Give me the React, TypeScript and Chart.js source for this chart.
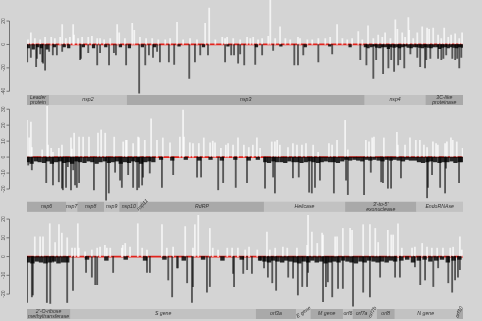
import React, { useEffect, useRef } from "react";
import { Chart, registerables } from "chart.js";

Chart.register(...registerables);

// ---------------- Panel 1 (ORF1a: nsp1 - nsp5) ----------------
const p1Range = [266, 10972];
const p1Ticks = [20, 0, -20, -40];
const p1PosX = [290, 360, 460, 590, 710, 860, 950, 1080, 1130, 1220,
  1320, 1400, 1420, 1520, 1620, 1770, 1860, 1990, 2060, 2160,
  2310, 2480, 2530, 2670, 2850, 2900, 3040, 3190, 3340, 3490,
  3660, 3780, 3950, 4100, 4270, 4440, 4640, 4740, 4890, 5060,
  5130, 5180, 5330, 5500, 5670, 5750, 5820, 5940, 6040, 6190,
  6240, 6360, 6480, 6610, 6730, 6920, 6970, 7150, 7270, 7420,
  7590, 7710, 7880, 8010, 8130, 8250, 8400, 8500, 8640, 8770,
  8890, 8990, 9060, 9190, 9310, 9360, 9480, 9550, 9630, 9650,
  9750, 9850, 9970, 10090, 10140, 10240, 10360, 10440, 10510, 10610,
  10680, 10780, 10880, 10950];
const p1PosY = [4, 10, 5, 4, 6, 6, 5, 6, 17, 5,
  6, 17, 8, 5, 6, 6, 7, 5, 5, 4,
  5, 17, 10, 5, 18, 12, 6, 5, 5, 4,
  4, 5, 19, 4, 5, 4, 18, 31, 4, 6,
  5, 6, 5, 4, 6, 5, 6, 4, 5, 7,
  40, 5, 15, 5, 4, 6, 5, 4, 4, 5,
  5, 6, 17, 5, 4, 5, 11, 4, 16, 5,
  8, 6, 10, 5, 21, 13, 10, 6, 23, 12,
  5, 10, 15, 14, 13, 14, 8, 5, 14, 6,
  8, 9, 5, 10];
const p1NegX = [270, 360, 490, 510, 590, 640, 660, 710, 810, 900,
  1000, 1130, 1570, 1590, 1770, 1990, 2060, 2280, 2400, 2450,
  2700, 3020, 3170, 3260, 3360, 3460, 3530, 3750, 3880, 4250,
  4390, 4520, 4710, 5130, 5280, 5350, 5450, 5500, 5600, 5870,
  6040, 6310, 6830, 6920, 7050, 7420, 7760, 8450, 8600, 8770,
  8840, 9010, 9140, 9210, 9280, 9380, 9430, 9530, 9680, 9850,
  9920, 10040, 10070, 10170, 10360, 10440, 10490, 10560, 10710, 10780,
  10830, 10880, 10930];
const p1NegY = [-15, -11, -19, -12, -8, -15, -16, -22, -6, -9,
  -9, -6, -13, -12, -7, -17.5, -7, -17.5, -7, -9,
  -17.5, -42, -17.5, -9, -11, -6, -15, -15, -17, -29,
  -15, -9, -9, -15, -9, -9, -16, -8, -17.5, -17,
  -9, -5, -17.5, -17.5, -9, -15, -8, -13, -17.5, -29,
  -13, -25, -20, -13, -23, -17.5, -13, -20, -8, -11,
  -19, -20, -13, -12, -12, -13, -12, -9, -12, -13,
  -12, -20, -11];
const p1BandX = [300, 420, 530, 620, 760, 940, 1180, 1290, 1650, 1900,
  2200, 2560, 2780, 3100, 3400, 4000, 4600, 5200, 5900, 6500,
  7100, 7700, 8200, 8575, 8640, 8715, 8790, 8855, 8930, 8995,
  9070, 9140, 9205, 9280, 9350, 9415, 9490, 9560, 9625, 9700,
  9770, 9835, 9910, 9980, 10045, 10120, 10190, 10255, 10330, 10400,
  10465, 10540, 10610, 10675, 10750, 10820, 10885, 10955];
const p1BandY = [-3, -4, -2, -3, -4, -2, -2, -3, -2, -3,
  -2, -2, -3, -2, -2, -1.5, -2, -1.5, -2, -1.5,
  -2, -1.5, -2, -2, -3, -2, -1.5, -2.5, -3, -2,
  -2, -3.5, -2, -2.5, -2, -3, -2, -1.5, -2.5, -3,
  -2, -2, -2.5, -3, -2, -2.5, -3, -2, -2, -3.5,
  -2.5, -2, -3, -2, -2.5, -3, -2, -2.5];
const p1Genes = ["Leader\nprotein", "nsp2", "nsp3", "nsp4", "3C-like\nproteinase"];
const p1GeneStart = [266, 806, 2720, 8555, 10055];
const p1GeneEnd = [805, 2719, 8554, 10054, 10972];

// ---------------- Panel 2 (nsp6 - nsp15) ----------------
const p2Range = [10973, 20658];
const p2Ticks = [30, 20, 10, 0, -10, -20];
const p2PosX = [10970, 11020, 11060, 11080, 11310, 11420, 11440, 11510, 11550, 11680,
  11750, 11950, 11970, 12020, 12130, 12220, 12350, 12550, 12620, 12710,
  12910, 13110, 13170, 13190, 13330, 13440, 13460, 13590, 13730, 13860,
  13990, 14150, 14370, 14440, 14460, 14590, 14660, 14790, 14900, 15040,
  15100, 15150, 15280, 15390, 15440, 15550, 15660, 15790, 15900, 15990,
  16080, 16150, 16410, 16480, 16530, 16590, 16770, 16880, 16970, 17080,
  17170, 17330, 17440, 17680, 17750, 17860, 18040, 18100, 18500, 18570,
  18640, 18680, 18900, 19190, 19210, 19370, 19480, 19610, 19700, 19790,
  19860, 19990, 20060, 20100, 20260, 20300, 20390, 20430, 20520, 20650];
const p2PosY = [23, 12, 22, 6, 4.5, 32, 7.5, 5.5, 3, 5.5,
  7.5, 12, 5, 15, 12.5, 12.5, 12.5, 15, 17, 15,
  12.5, 9.5, 10.5, 10.5, 8.5, 12.5, 12, 10.5, 24, 10.5,
  12, 9, 12.5, 29.5, 12.5, 9, 8.5, 8.5, 12, 9,
  10, 9, 5.5, 7.5, 8.5, 7.5, 12, 7.5, 6, 7.5,
  12, 5.5, 9.5, 9.5, 10.5, 7.5, 6, 8.5, 7.5, 7.5,
  8.5, 7.5, 3, 8.5, 7.5, 10.5, 23, 4.5, 10.5, 9.5,
  12, 12.5, 12, 15.5, 7.5, 7.5, 12, 10.5, 10.5, 7.5,
  6, 9.5, 8.5, 7.5, 8.5, 9.5, 12, 10.5, 9.5, 5.5];
const p2NegX = [11000, 11080, 11400, 11550, 11680, 11750, 11770, 11840, 11880, 11950,
  12000, 12040, 12080, 12130, 12460, 12730, 12790, 12930, 13040, 13080,
  13220, 13330, 13420, 13460, 13530, 13550, 13700, 13970, 14220, 14750,
  14840, 15220, 15330, 15610, 15860, 16260, 16440, 16480, 16880, 17010,
  17240, 17300, 17370, 17480, 17790, 18060, 18100, 18460, 18610, 18840,
  18880, 18990, 19060, 19280, 19860, 19880, 19970, 20150, 20260, 20280,
  20570];
const p2NegY = [-5, -8, -16, -17.5, -15.5, -19.5, -20.5, -19, -6, -20.5,
  -8, -17.5, -19, -16, -20.5, -27, -22.5, -9.5, -14.5, -19,
  -11, -19, -20.5, -19, -17.5, -12.5, -10, -19, -11, -12.5,
  -12.5, -20.5, -16, -19, -16, -19.5, -12.5, -22.5, -13, -12.5,
  -22, -22.5, -19, -14.5, -22.5, -14.5, -23.5, -23.5, -9.5, -15.5,
  -16, -19.5, -19.5, -13, -25.5, -19, -11, -19, -22.5, -7,
  -16];
const p2BandX = [10990, 11075, 11170, 11255, 11350, 11440, 11525, 11620, 11705, 11800,
  11890, 11975, 12070, 12155, 12250, 12340, 12425, 12520, 12605, 12700,
  12790, 12875, 12970, 13055, 13150, 13240, 13325, 13420, 13505, 13600,
  13690, 13780, 13950, 14200, 14500, 14800, 15050, 15300, 15600, 15900,
  16100, 16265, 16350, 16445, 16530, 16625, 16710, 16800, 16895, 16980,
  17070, 17165, 17250, 17340, 17435, 17520, 17610, 17705, 17790, 17880,
  17975, 18060, 18150, 18245, 18330, 18420, 18515, 18600, 18690, 18785,
  18870, 18960, 19055, 19140, 19230, 19325, 19410, 19500, 19595, 19680,
  19770, 19865, 19950, 20040, 20135, 20220, 20310, 20405, 20490, 20580,
  20645];
const p2BandY = [-3, -4, -2.5, -3, -3.5, -2.5, -4, -3, -2.5, -3.5,
  -3, -4, -2.5, -3, -3.5, -2.5, -3, -4, -3, -2.5,
  -3.5, -3, -2.5, -4, -3, -3.5, -2.5, -3, -4, -3,
  -2.5, -3, -1.5, -2, -1.5, -2, -1.5, -2, -1.5, -2,
  -1.5, -3, -3.5, -2.5, -3, -3, -3.5, -2.5, -3, -3,
  -3.5, -3, -2.5, -3, -3.5, -3, -2.5, -3, -3, -3.5,
  -2.5, -1.5, -2, -1.5, -2, -2.5, -1.5, -2, -1.5, -2,
  -2.5, -1.5, -2, -1.5, -2, -2.5, -1.5, -2, -2, -3,
  -3.5, -3, -2.5, -3, -3.5, -3, -3, -2.5, -3.5, -3,
  -3];
const p2Genes = ["nsp6", "nsp7", "nsp8", "nsp9", "nsp10", "nsp11", "RdRP", "Helicase", "3'-to-5'\nexonuclease", "EndoRNAse"];
const p2GeneStart = [10973, 11843, 12092, 12686, 13025, 13442, 13481, 16237, 18040, 19621];
const p2GeneEnd = [11842, 12091, 12685, 13024, 13441, 13480, 16236, 18039, 19620, 20658];

// ---------------- Panel 3 (nsp16 - orf10) ----------------
const p3Range = [20659, 29674];
const p3Ticks = [20, 10, 0, -10, -20];
const p3PosX = [20820, 20930, 20990, 21130, 21240, 21320, 21380, 21490, 21590, 21650,
  21710, 21730, 21860, 22000, 22110, 22170, 22270, 22310, 22380, 22620,
  22640, 22690, 22790, 22950, 23040, 23140, 23450, 23550, 23680, 23930,
  24090, 24130, 24200, 24440, 24500, 24610, 24800, 24900, 25020, 25170,
  25250, 25420, 25620, 25680, 25790, 25950, 26040, 26240, 26450, 26470,
  26550, 26660, 26760, 26780, 27030, 27070, 27190, 27340, 27380, 27610,
  27750, 27860, 27920, 28120, 28190, 28230, 28330, 28410, 28620, 28680,
  28830, 28930, 29030, 29140, 29260, 29410, 29470, 29610, 29650];
const p3PosY = [10.5, 10.5, 10.5, 17.5, 7.5, 17, 12.5, 10, 4.5, 4.5,
  17.5, 4.5, 2.5, 3.5, 4.5, 5, 6, 4.5, 4.5, 4.5,
  6, 7, 5, 17.5, 4.5, 3.5, 17, 4.5, 5, 16,
  4.5, 17, 22, 15, 4.5, 3.5, 4.5, 4.5, 4.5, 3.5,
  5, 3.5, 13, 3.5, 4.5, 5, 4.5, 4.5, 6, 22,
  13, 7, 12.5, 11.5, 10.5, 10.5, 15, 15, 14, 17,
  17, 15, 7.5, 14, 11.5, 11.5, 17.5, 4.5, 4.5, 5,
  7, 5, 4.5, 4.5, 4.5, 4.5, 5, 10.5, 3.5];
const p3NegX = [20660, 20760, 20780, 21070, 21140, 21200, 21490, 21610, 21880, 22000,
  22070, 22110, 22440, 23140, 23200, 23580, 23660, 23760, 23780, 23970,
  24070, 24090, 24380, 24440, 24920, 24940, 25130, 25210, 25310, 25480,
  25560, 25640, 25730, 25810, 26060, 26160, 26260, 26350, 26450, 26470,
  26780, 26840, 26880, 26970, 27090, 27190, 27400, 27610, 27750, 27960,
  28270, 28370, 28680, 28790, 28890, 29060, 29160, 29370, 29450, 29510,
  29570, 29610];
const p3NegY = [-24.5, -21.5, -20.5, -24.5, -25, -3, -24.5, -18, -8.5, -11,
  -15, -15, -8.5, -8.5, -8.5, -12.5, -21.5, -6, -6, -14,
  -24.5, -16, -19, -16, -9, -16, -9, -7, -9, -2,
  -6, -11, -14, -18, -11, -11.5, -20.5, -16, -16, -8.5,
  -24, -16, -13.5, -21.5, -17, -17, -26.5, -19, -21.5, -11,
  -11, -11, -5.5, -15, -12.5, -16, -6, -14, -19, -12.5,
  -11, -7];
const p3BandX = [20680, 20770, 20860, 20950, 21040, 21130, 21220, 21310, 21400, 21490,
  21900, 22300, 22700, 23100, 23500, 23900, 24300, 24700, 25100,
  25480, 25570, 25665, 25750, 25840, 25935, 26020, 26110, 26205, 26290,
  26380, 26475, 26560, 26650, 26745, 26830, 26920, 27015, 27100, 27190,
  27285, 27370, 27460, 27555, 27640, 27730, 27825, 27910, 28000, 28095,
  28180, 28270,
  28400, 28520, 28640, 28760, 28880, 29000, 29120, 29240, 29360, 29480, 29600];
const p3BandY = [-3, -3.5, -2.5, -3, -3.5, -3, -2.5, -3.5, -3, -3,
  -1.5, -2, -1.5, -2, -1.5, -2, -1.5, -2, -1.5,
  -2, -2.5, -3, -2, -2.5, -3, -2, -2.5, -3, -3.5,
  -2.5, -3, -2, -3, -2.5, -3.5, -3, -2.5, -3, -2,
  -2.5, -3, -3.5, -2.5, -3, -2, -2.5, -3, -2.5, -3,
  -2, -2.5,
  -2, -1.5, -3, -2, -1.5, -2.5, -2, -1.5, -3, -2, -1.5];
const p3Genes = ["2'-O-ribose\nmethyltransferase", "S gene", "orf3a", "E gene", "M gene", "orf6", "orf7a", "orf7b", "orf8", "N gene", "orf10"];
const p3GeneStart = [20659, 21563, 25393, 26245, 26523, 27202, 27394, 27756, 27894, 28274, 29558];
const p3GeneEnd = [21552, 25384, 26220, 26472, 27191, 27387, 27759, 27887, 28259, 29533, 29674];

// ---------------- styles / layout ----------------
const BG = "#d4d4d4";
const SEG_DARK = "#a9a9a9";
const SEG_LIGHT = "#c2c2c2";
const POS_COLOR = "rgba(255,255,255,0.72)";
const NEG_COLOR = "rgba(10,10,10,0.62)";
const BAND_COLOR = "rgba(0,0,0,0.82)";
const ZERO_COLOR = "#e3231c";

const p1LabelRot = [0, 0, 0, 0, 0];
const p2LabelRot = [0, 0, 0, 0, 0, -45, 0, 0, 0, 0];
const p3LabelRot = [0, 0, 0, -35, 0, 0, 0, -60, 0, 0, -65];

type Panel = {
  range: number[]; ticks: number[];
  posX: number[]; posY: number[]; negX: number[]; negY: number[]; bandX: number[]; bandY: number[];
  genes: string[]; gStart: number[]; gEnd: number[]; gRot: number[];
  yMin: number; yMax: number; top: number; height: number; padTop: number; padBottom: number;
  bandWidth: number; stripTop: number;
};

const PANELS: Panel[] = [
  { range: p1Range, ticks: p1Ticks, posX: p1PosX, posY: p1PosY, negX: p1NegX, negY: p1NegY, bandX: p1BandX, bandY: p1BandY,
    genes: p1Genes, gStart: p1GeneStart, gEnd: p1GeneEnd, gRot: p1LabelRot,
    yMin: -42, yMax: 38, top: 0, height: 105, padTop: 0, padBottom: 11.4, bandWidth: 2.6, stripTop: 95 },
  { range: p2Range, ticks: p2Ticks, posX: p2PosX, posY: p2PosY, negX: p2NegX, negY: p2NegY, bandX: p2BandX, bandY: p2BandY,
    genes: p2Genes, gStart: p2GeneStart, gEnd: p2GeneEnd, gRot: p2LabelRot,
    yMin: -27.5, yMax: 32, top: 105, height: 108, padTop: 1, padBottom: 12, bandWidth: 3.6, stripTop: 96.8 },
  { range: p3Range, ticks: p3Ticks, posX: p3PosX, posY: p3PosY, negX: p3NegX, negY: p3NegY, bandX: p3BandX, bandY: p3BandY,
    genes: p3Genes, gStart: p3GeneStart, gEnd: p3GeneEnd, gRot: p3LabelRot,
    yMin: -26.9, yMax: 22.7, top: 213, height: 108, padTop: 1, padBottom: 14, bandWidth: 3.8, stripTop: 96 },
];

const panelDecor = {
  id: "panelDecor",
  afterDraw(chart: any, _args: any, opts: any) {
    const { ctx, scales } = chart;
    const xs = scales.x, ys = scales.y;
    const p: Panel = opts.panel;
    ctx.save();
    // y axis (R style, offset from plot)
    const ax = 9.5;
    ctx.strokeStyle = "#5a5a5a";
    ctx.lineWidth = 0.8;
    ctx.beginPath();
    const tTop = ys.getPixelForValue(p.ticks[0]);
    const tBot = ys.getPixelForValue(p.ticks[p.ticks.length - 1]);
    ctx.moveTo(ax, tTop);
    ctx.lineTo(ax, tBot);
    p.ticks.forEach((v) => {
      const py = ys.getPixelForValue(v);
      ctx.moveTo(ax - 3, py);
      ctx.lineTo(ax, py);
    });
    ctx.stroke();
    ctx.fillStyle = "#555";
    ctx.font = '5px "Liberation Sans", Arial, sans-serif';
    ctx.textAlign = "center";
    ctx.textBaseline = "middle";
    p.ticks.forEach((v) => {
      const py = ys.getPixelForValue(v);
      ctx.save();
      ctx.translate(3.5, py);
      ctx.rotate(-Math.PI / 2);
      ctx.fillText(String(v), 0, 0);
      ctx.restore();
    });
    // annotation strip
    const top = p.stripTop;
    const h = 10;
    ctx.fillStyle = SEG_LIGHT;
    ctx.fillRect(xs.left, top, xs.right - xs.left, h);
    p.genes.forEach((_, i) => {
      const x0 = xs.getPixelForValue(p.gStart[i]);
      const x1 = xs.getPixelForValue(p.gEnd[i]);
      ctx.fillStyle = i % 2 === 0 ? SEG_DARK : SEG_LIGHT;
      ctx.fillRect(x0, top, Math.max(1, x1 - x0), h);
    });
    ctx.fillStyle = "#333";
    ctx.font = 'italic 5.2px "Liberation Sans", Arial, sans-serif';
    p.genes.forEach((name, i) => {
      const x0 = xs.getPixelForValue(p.gStart[i]);
      const x1 = xs.getPixelForValue(p.gEnd[i]);
      const rot = p.gRot[i];
      if (rot) {
        ctx.save();
        ctx.translate(x0 + 0.5, top + h - 1);
        ctx.rotate((rot * Math.PI) / 180);
        ctx.textAlign = "left";
        ctx.textBaseline = "alphabetic";
        ctx.fillText(name, 0, 0);
        ctx.restore();
      } else {
        const lines = name.split("\n");
        const lh = 4.6;
        const cx = (x0 + x1) / 2;
        const cy = top + h / 2;
        ctx.textAlign = "center";
        ctx.textBaseline = "middle";
        lines.forEach((ln, k) => {
          ctx.fillText(ln, cx, cy + (k - (lines.length - 1) / 2) * lh);
        });
      }
    });
    ctx.restore();
  },
};

function PanelChart({ p }: { p: Panel }) {
  const ref = useRef<HTMLCanvasElement | null>(null);
  useEffect(() => {
    if (!ref.current) return;
    const toPts = (xs: number[], ys: number[]) => xs.map((x, i) => ({ x, y: ys[i] }));
    const chart = new Chart(ref.current, {
      type: "bar",
      data: {
        datasets: [
          {
            type: "line",
            data: [{ x: p.range[0], y: 0 }, { x: p.range[1], y: 0 }],
            borderColor: ZERO_COLOR,
            borderWidth: 1.8,
            pointRadius: 0,
            order: 10,
          } as any,
          {
            data: toPts(p.posX, p.posY),
            backgroundColor: POS_COLOR,
            barThickness: 1.1,
            order: 3,
          },
          {
            data: toPts(p.negX, p.negY),
            backgroundColor: NEG_COLOR,
            barThickness: 1.2,
            order: 2,
          },
          {
            data: toPts(p.bandX, p.bandY),
            backgroundColor: BAND_COLOR,
            barThickness: p.bandWidth,
            order: 1,
          },
        ],
      },
      options: {
        responsive: false,
        animation: false,
        devicePixelRatio: 1,
        events: [],
        layout: { padding: { left: 27, right: 19, top: p.padTop, bottom: p.padBottom } },
        datasets: { bar: { grouped: false, borderWidth: 0 } as any },
        plugins: {
          legend: { display: false },
          tooltip: { enabled: false },
          panelDecor: { panel: p },
        } as any,
        scales: {
          x: { type: "linear", min: p.range[0], max: p.range[1], display: false, offset: false },
          y: { type: "linear", min: p.yMin, max: p.yMax, display: false },
        },
      },
      plugins: [panelDecor],
    } as any);
    return () => chart.destroy();
  }, [p]);
  return (
    <canvas
      ref={ref}
      width={482}
      height={p.height}
      style={{ position: "absolute", left: 0, top: p.top, width: 482, height: p.height }}
    />
  );
}

export default function App() {
  return (
    <div
      style={{
        position: "fixed",
        left: 0,
        top: 0,
        width: 482,
        height: 321,
        background: BG,
        overflow: "hidden",
      }}
    >
      {PANELS.map((p, i) => (
        <PanelChart key={i} p={p} />
      ))}
    </div>
  );
}
